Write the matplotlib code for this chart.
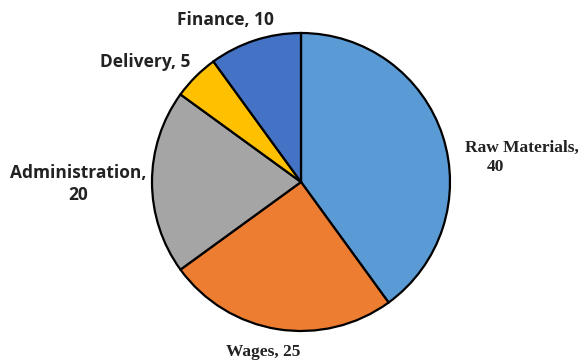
import matplotlib
matplotlib.use("Agg")
import matplotlib.pyplot as plt

# cost breakdown
names = ["Raw Materials", "Wages", "Administration", "Delivery", "Finance"]
values = [40, 25, 20, 5, 10]
colors = ["#5B9BD5", "#ED7D31", "#A5A5A5", "#FFC000", "#4472C4"]

fig = plt.figure(figsize=(5.8, 3.62), dpi=100)
ax = fig.add_axes([0, 0, 1, 1])

ax.pie(values, colors=colors, startangle=90, counterclock=False,
       center=(301, 180), radius=149,
       wedgeprops=dict(edgecolor="black", linewidth=1.6))
ax.set_xlim(0, 580)
ax.set_ylim(0, 362)
ax.axis("off")

sans = dict(family="Open Sans", weight="bold", fontsize=12.5, color="#222222")
serif = dict(family="Liberation Serif", weight="bold", fontsize=12.5, color="#222222")

# label placement: (x, y of first line, line gap, ha, style, two lines?)
spots = {
    "Raw Materials": (465, 214, 19, "left", serif, True),
    "Wages": (263, 10, 0, "center", serif, False),
    "Administration": (78, 189, 22, "center", sans, True),
    "Delivery": (145, 300, 0, "center", sans, False),
    "Finance": (225, 342, 0, "center", sans, False),
}

for name, val in zip(names, values):
    x, y, gap, ha, style, split = spots[name]
    if split:
        ax.text(x, y, name + ",", ha=ha, va="center", **style)
        vx = x + 30 if ha == "left" else x
        ax.text(vx, y - gap, str(val), ha="center", va="center", **style)
    else:
        ax.text(x, y, f"{name}, {val}", ha=ha, va="center", **style)

fig.savefig("out.png", dpi=100, facecolor="white")
